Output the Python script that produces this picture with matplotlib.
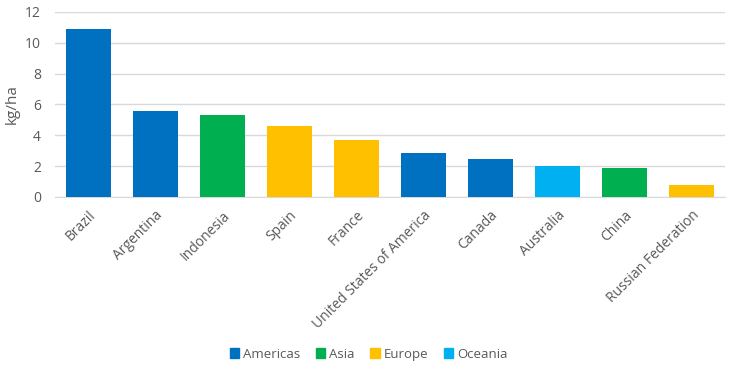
import matplotlib.pyplot as plt
from matplotlib.patches import Patch

countries = ['Brazil', 'Argentina', 'Indonesia', 'Spain', 'France',
             'United States of America', 'Canada', 'Australia', 'China',
             'Russian Federation']
values = [10.9, 5.58, 5.3, 4.6, 3.7, 2.85, 2.43, 2.0, 1.9, 0.8]
regions = ['Americas', 'Americas', 'Asia', 'Europe', 'Europe',
           'Americas', 'Americas', 'Oceania', 'Asia', 'Europe']
region_names = ['Americas', 'Asia', 'Europe', 'Oceania']
region_colors = {'Americas': '#0070C0', 'Asia': '#00B050',
                 'Europe': '#FFC000', 'Oceania': '#00B0F0'}

plt.rcParams['font.family'] = ['Open Sans', 'DejaVu Sans']
text_color = '#595959'

fig = plt.figure(figsize=(7.3, 3.7), dpi=100)
ax = fig.add_axes([0.075, 0.468, 0.918, 0.5])

x = list(range(len(countries)))
ax.bar(x, values, width=0.67, color=[region_colors[r] for r in regions], zorder=3)

ax.set_xlim(-0.5, len(countries) - 0.5)
ax.set_ylim(0, 12)
ax.set_yticks(range(0, 13, 2))
ax.grid(axis='y', color='#D9D9D9', linewidth=1, zorder=0)
for s in ['top', 'right', 'left']:
    ax.spines[s].set_visible(False)
ax.spines['bottom'].set_color('#D9D9D9')
ax.tick_params(axis='both', length=0, colors=text_color, labelsize=10)
ax.tick_params(axis='y', pad=10)
ax.tick_params(axis='x', pad=8)
ax.set_xticks(x)
ax.set_xticklabels(countries, rotation=45, ha='right', rotation_mode='anchor')
ax.set_ylabel('kg/ha', color=text_color, fontsize=11)

handles = [Patch(color=region_colors[r], label=r) for r in region_names]
fig.legend(handles=handles, loc='center', bbox_to_anchor=(0.505, 0.043), ncol=4,
           frameon=False, fontsize=9.5, handlelength=0.7, handleheight=0.7,
           handletextpad=0.3, columnspacing=1.2, labelcolor=text_color)

fig.savefig('out.png', dpi=100)
